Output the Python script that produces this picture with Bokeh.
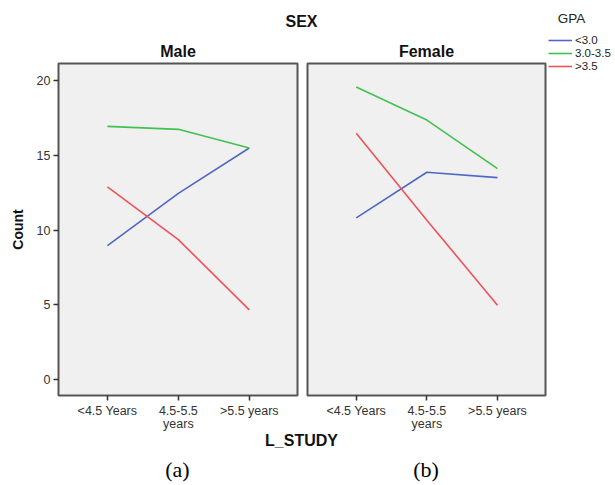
from bokeh.plotting import figure
from bokeh.models import Range1d, FixedTicker, Div, Legend, LegendItem, Label
from bokeh.layouts import row, column
from bokeh.embed import file_html
from bokeh.resources import INLINE

# ---- data ----
categories = ["<4.5 Years", "4.5-5.5 years", ">5.5 years"]
tick_labels = ["<4.5 Years", "4.5-5.5\nyears", ">5.5 years"]
gpa_groups = ["<3.0", "3.0-3.5", ">3.5"]
male_lt30 = [8.96, 12.45, 15.48]
male_30_35 = [16.93, 16.73, 15.48]
male_gt35 = [12.89, 9.36, 4.66]
female_lt30 = [10.81, 13.86, 13.5]
female_30_35 = [19.56, 17.35, 14.1]
female_gt35 = [16.47, 10.66, 4.97]
y_ticks = [0, 5, 10, 15, 20]

colors = ["#4f68c2", "#43c150", "#f0525a"]
FONT = "Liberation Sans"
xs = list(range(len(categories)))
label_map = {i: lab for i, lab in enumerate(tick_labels)}


def make_panel(title, series, width, left, right, show_y):
    p = figure(width=width, height=398, output_backend="svg", toolbar_location=None,
               x_range=Range1d(-0.69, len(categories) - 1 + 0.68),
               y_range=Range1d(-1.06, 21.13),
               min_border_left=left, min_border_right=right,
               min_border_top=28, min_border_bottom=35,
               background_fill_color="#f0f0f0", border_fill_color="white",
               title=title)
    p.title.align = "center"
    p.title.text_font = FONT
    p.title.text_font_style = "bold"
    p.title.text_font_size = "16px"
    p.title.text_color = "#111111"
    p.title.standoff = 8
    p.outline_line_color = "#555555"
    p.outline_line_width = 2
    p.grid.visible = False
    p.xaxis.ticker = FixedTicker(ticks=xs)
    p.xaxis.major_label_overrides = label_map
    p.yaxis.ticker = FixedTicker(ticks=y_ticks)
    for ax in (p.xaxis, p.yaxis):
        ax.axis_line_color = None
        ax.minor_tick_line_color = None
        ax.major_tick_in = 0
        ax.major_tick_out = 5
        ax.major_tick_line_color = "#333333"
        ax.major_tick_line_width = 1.5
        ax.major_label_text_font = FONT
        ax.major_label_text_font_size = "12.5px"
        ax.major_label_text_color = "#333333"
        ax.major_label_standoff = 3
    p.xaxis.major_label_text_line_height = 0.95
    if show_y:
        p.yaxis.axis_label = "Count"
        p.yaxis.axis_label_text_font = FONT
        p.yaxis.axis_label_text_font_style = "bold"
        p.yaxis.axis_label_text_font_size = "14px"
        p.yaxis.axis_label_text_color = "#111111"
        p.yaxis.axis_label_standoff = 8
    else:
        p.yaxis.visible = False
    for vals, c in zip(series, colors):
        p.line(xs, vals, line_color=c, line_width=1.6)
    return p


p1 = make_panel("Male", [male_lt30, male_30_35, male_gt35], 302, 58, 5, True)
p2 = make_panel("Female", [female_lt30, female_30_35, female_gt35], 245, 5, 2, False)

# legend panel (stand-in renderers carry the series styles for the key)
p3 = figure(width=68, height=82, output_backend="svg", toolbar_location=None,
            x_range=Range1d(0, 1), y_range=Range1d(0, 1),
            x_axis_location=None, y_axis_location=None,
            min_border=0, border_fill_color="white", background_fill_color="white")
p3.outline_line_color = None
p3.grid.visible = False
items = []
for c, g in zip(colors, gpa_groups):
    r = p3.line(x=[float("nan")], y=[float("nan")], line_color=c, line_width=1.6)
    items.append(LegendItem(label=g, renderers=[r]))
leg = Legend(items=items, location=(1, 10))
leg.margin = 0
leg.padding = 0
leg.border_line_color = None
leg.background_fill_alpha = 0
leg.label_text_font = FONT
leg.label_text_font_size = "11.5px"
leg.label_text_color = "#222222"
leg.glyph_width = 24
leg.glyph_height = 12
leg.label_height = 12
leg.label_standoff = 3
leg.spacing = 1
p3.add_layout(leg)
p3.add_layout(Label(x=24, y=82 - 18, x_units="screen", y_units="screen", text="GPA",
                    text_font=FONT, text_font_size="13.5px", text_color="#222222",
                    text_align="center", text_baseline="middle"))


def div(text, width, height, style):
    return Div(text=f'<div style="{style}">{text}</div>', width=width, height=height, margin=(0, 0, 0, 0))


bold = f"font-family:'{FONT}',Arial,sans-serif;font-weight:bold;font-size:16px;color:#111;text-align:center;"
serif = "font-family:'Liberation Serif','Times New Roman',serif;font-size:22px;color:#000;text-align:center;"

d_sex = div("SEX", 547, 35, bold + "width:487px;margin-left:58px;line-height:44px;")
d_lstudy = div("L_STUDY", 547, 22, bold + "width:487px;margin-left:58px;line-height:16px;")
d_a = div("(a)", 302, 30, serif + "width:239px;margin-left:58px;line-height:30px;")
d_b = div("(b)", 245, 30, serif + "width:238px;margin-left:5px;line-height:30px;")

main = column(d_sex, row(p1, p2), d_lstudy, row(d_a, d_b))
layout = row(main, p3)

open("out.html", "w").write(file_html(layout, INLINE))
